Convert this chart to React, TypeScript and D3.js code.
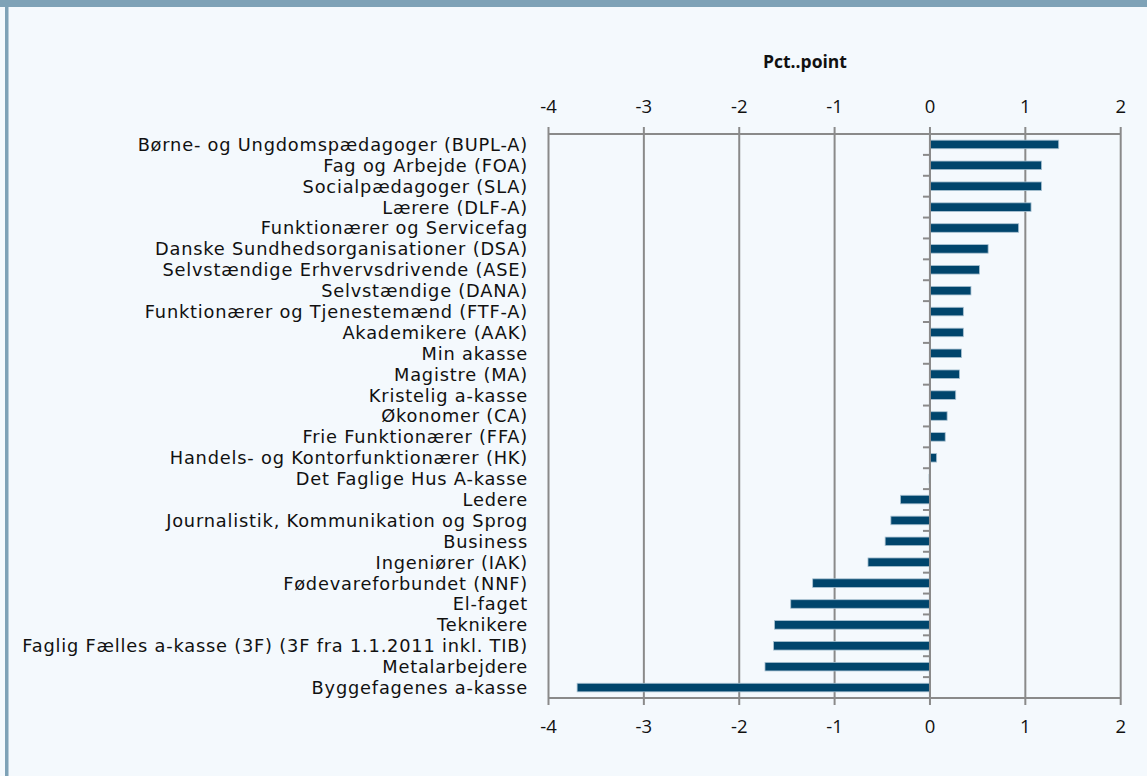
import React from 'react';
import * as d3 from 'd3';

const W = 1147;
const H = 776;

// a-kasser, top to bottom
const categories = [
    'Børne- og Ungdomspædagoger (BUPL-A)',
    'Fag og Arbejde (FOA)',
    'Socialpædagoger (SLA)',
    'Lærere (DLF-A)',
    'Funktionærer og Servicefag',
    'Danske Sundhedsorganisationer (DSA)',
    'Selvstændige Erhvervsdrivende (ASE)',
    'Selvstændige (DANA)',
    'Funktionærer og Tjenestemænd (FTF-A)',
    'Akademikere (AAK)',
    'Min akasse',
    'Magistre (MA)',
    'Kristelig a-kasse',
    'Økonomer (CA)',
    'Frie Funktionærer (FFA)',
    'Handels- og Kontorfunktionærer (HK)',
    'Det Faglige Hus A-kasse',
    'Ledere',
    'Journalistik, Kommunikation og Sprog',
    'Business',
    'Ingeniører (IAK)',
    'Fødevareforbundet (NNF)',
    'El-faget',
    'Teknikere',
    'Faglig Fælles a-kasse (3F) (3F fra 1.1.2011 inkl. TIB)',
    'Metalarbejdere',
    'Byggefagenes a-kasse',
];

// Pct.-point change
const values = [
    1.35, 1.17, 1.17, 1.06, 0.93, 0.61, 0.52, 0.43, 0.35, 0.35, 0.33, 0.31, 0.27, 0.18,
    0.16, 0.07, -0.01, -0.31, -0.41, -0.47, -0.65, -1.23, -1.46, -1.63, -1.64, -1.73, -3.7,
];

const xTicks = [-4, -3, -2, -1, 0, 1, 2];
const axisTitle = 'Pct..point';

const PLOT = { left: 548.5, right: 1120.7, top: 134, bottom: 698 };
const FONT = '"Open Sans", Lato, sans-serif';
const LABEL_FONT = '"DejaVu Sans", sans-serif';
const GRID = '#8a8a8a';
const BAR = '#00456c';

export default function App() {
    const x = d3.scaleLinear().domain([-4, 2]).range([PLOT.left, PLOT.right]);
    const y = d3
        .scaleBand<string>()
        .domain(categories)
        .range([PLOT.top, PLOT.bottom])
        .paddingInner(0.59)
        .paddingOuter(0.295);
    const step = y.step();
    const x0 = x(0);

    return (
        <svg
            width={W}
            height={H}
            style={{ position: 'fixed', left: 0, top: 0, display: 'block' }}
            fontFamily={FONT}
        >
            <rect x={0} y={0} width={W} height={H} fill="#f4f9fd" />
            {/* header band + left border */}
            <rect x={0} y={0} width={W} height={7} fill="#7ea2b7" />
            <rect x={5} y={0} width={3.5} height={H} fill="#7ea2b7" />

            {/* axis title */}
            <text x={805} y={67.5} textAnchor="middle" fontSize={17.5} fontWeight={700} fill="#111">
                {axisTitle}
            </text>

            {/* gridlines */}
            {xTicks.map((t) => (
                <line
                    key={'g' + t}
                    x1={x(t)}
                    x2={x(t)}
                    y1={PLOT.top - 7}
                    y2={PLOT.bottom + 7}
                    stroke={GRID}
                    strokeWidth={2}
                />
            ))}

            {/* top & bottom axis lines */}
            <line x1={PLOT.left} x2={PLOT.right} y1={PLOT.top} y2={PLOT.top} stroke={GRID} strokeWidth={2} />
            <line x1={PLOT.left} x2={PLOT.right} y1={PLOT.bottom} y2={PLOT.bottom} stroke={GRID} strokeWidth={2} />

            {/* tick labels */}
            {xTicks.map((t) => (
                <g key={'l' + t} fontSize={18.5} fill="#111" textAnchor="middle">
                    <text x={x(t)} y={113}>{t}</text>
                    <text x={x(t)} y={733}>{t}</text>
                </g>
            ))}

            {/* bars */}
            {categories.map((c, i) => {
                const v = values[i];
                return (
                    <rect
                        key={c}
                        x={Math.min(x(v), x0)}
                        y={y(c)}
                        width={Math.abs(x(v) - x0)}
                        height={y.bandwidth()}
                        fill={BAR}
                        stroke="#a9c2d2"
                        strokeWidth={0.8}
                    />
                );
            })}

            {/* category axis at zero */}
            <line x1={x0} x2={x0} y1={PLOT.top} y2={PLOT.bottom} stroke={GRID} strokeWidth={2} />
            {d3.range(categories.length + 1).map((i) => (
                <line
                    key={'t' + i}
                    x1={x0 - 7}
                    x2={x0}
                    y1={PLOT.top + i * step}
                    y2={PLOT.top + i * step}
                    stroke={GRID}
                    strokeWidth={2}
                />
            ))}

            {/* category labels */}
            {categories.map((c) => (
                <text
                    key={'c' + c}
                    x={528}
                    y={(y(c) ?? 0) + y.bandwidth() / 2}
                    dy="0.36em"
                    textAnchor="end"
                    fontFamily={LABEL_FONT}
                    fontSize={17.8}
                    letterSpacing={0.8}
                    fill="#111"
                >
                    {c}
                </text>
            ))}
        </svg>
    );
}
